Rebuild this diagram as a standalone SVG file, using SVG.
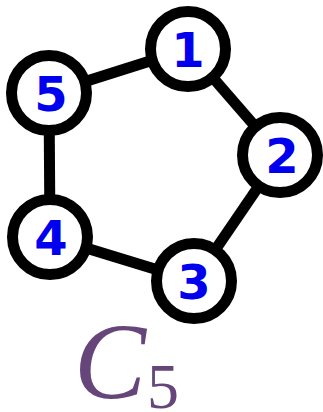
<svg xmlns="http://www.w3.org/2000/svg" width="323" height="412" viewBox="0 0 323 412">
  <style>
    .edge { stroke: #000; stroke-width: 11; stroke-linecap: butt; }
    .node circle { fill: #fff; stroke: #000; stroke-width: 11; }
    .node text { fill: #0000ee; font-family: "DejaVu Sans", sans-serif; font-weight: bold; font-size: 48px; text-anchor: middle; }
    .title { fill: #66457a; font-family: "Liberation Serif", serif; }
    .main { font-style: italic; font-size: 108px; }
    .sub { font-style: normal; font-size: 64px; }
  </style>
  <rect width="323" height="412" fill="#fff"/>
  <g id="edges">
    <line class="edge" x1="188" y1="49" x2="280" y2="155"/>
    <line class="edge" x1="280" y1="155" x2="194" y2="281"/>
    <line class="edge" x1="194" y1="281" x2="50" y2="237"/>
    <line class="edge" x1="50" y1="237" x2="49" y2="93"/>
    <line class="edge" x1="49" y1="93" x2="188" y2="49"/>
  </g>
  <g id="n1" class="node"><circle cx="188" cy="49" r="37.5"/><text x="188" y="67">1</text></g>
  <g id="n2" class="node"><circle cx="280" cy="155" r="37.5"/><text x="282" y="173">2</text></g>
  <g id="n3" class="node"><circle cx="194" cy="281" r="37.5"/><text x="194" y="299">3</text></g>
  <g id="n4" class="node"><circle cx="50" cy="237" r="37.5"/><text x="51" y="255">4</text></g>
  <g id="n5" class="node"><circle cx="49" cy="93" r="37.5"/><text x="51" y="111">5</text></g>
  <g id="label">
    <text class="title main" x="74" y="398">C</text>
    <text class="title sub" x="147" y="408">5</text>
  </g>
</svg>
